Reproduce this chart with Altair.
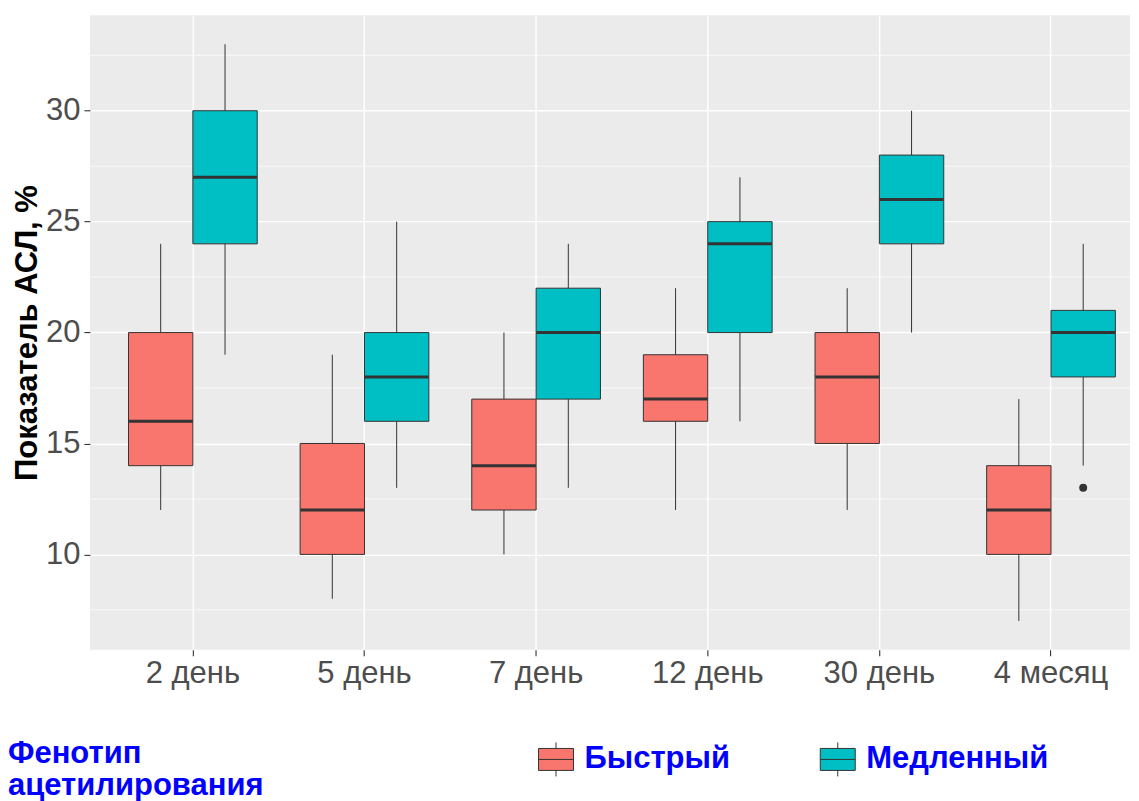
import altair as alt
import pandas as pd

days = ["2 день", "5 день", "7 день", "12 день", "30 день", "4 месяц"]
groups = ["Быстрый", "Медленный"]
colors = ["#F8766D", "#00BFC4"]

fast_min = [12, 8, 10, 12, 12, 7]
fast_q1 = [14, 10, 12, 16, 15, 10]
fast_med = [16, 12, 14, 17, 18, 12]
fast_q3 = [20, 15, 17, 19, 20, 14]
fast_max = [24, 19, 20, 22, 22, 17]

slow_min = [19, 13, 13, 16, 20, 14]
slow_q1 = [24, 16, 17, 20, 24, 18]
slow_med = [27, 18, 20, 24, 26, 20]
slow_q3 = [30, 20, 22, 25, 28, 21]
slow_max = [33, 25, 24, 27, 30, 24]

outlier_day = ["4 месяц"]
outlier_group = ["Медленный"]
outlier_value = [13]

major_ticks = [10, 15, 20, 25, 30]
minor_ticks = [7.5, 12.5, 17.5, 22.5, 27.5, 32.5]

rows = []
for i, d in enumerate(days):
    rows.append(dict(day=d, group=groups[0], lo=fast_min[i], q1=fast_q1[i],
                     med=fast_med[i], q3=fast_q3[i], hi=fast_max[i]))
    rows.append(dict(day=d, group=groups[1], lo=slow_min[i], q1=slow_q1[i],
                     med=slow_med[i], q3=slow_q3[i], hi=slow_max[i]))
box_df = pd.DataFrame(rows)
out_df = pd.DataFrame(dict(day=outlier_day, group=outlier_group, value=outlier_value))
minor_df = pd.DataFrame(dict(v=minor_ticks))

FONT = "Liberation Sans"

xscale = alt.Scale(domain=days, paddingInner=0.25, paddingOuter=0.155, align=0.725)
xaxis = alt.Axis(title=None, labelAngle=0, bandPosition=0.5, grid=True,
                 gridColor="white", gridWidth=1.4, domain=False,
                 tickColor="#333333", tickSize=6, tickWidth=1.1,
                 labelFont=FONT, labelFontSize=31, labelColor="#4D4D4D",
                 labelPadding=3)
yscale = alt.Scale(domain=[5.7, 34.3], nice=False, zero=False)
yaxis = alt.Axis(values=major_ticks, grid=True, gridColor="white", gridWidth=1.4,
                 domain=False, tickColor="#333333", tickSize=6, tickWidth=1.1,
                 labelFont=FONT, labelFontSize=31, labelColor="#4D4D4D",
                 labelPadding=4, title="Показатель АСЛ, %", titleFont=FONT,
                 titleFontSize=31, titleFontWeight="bold", titleColor="black",
                 titlePadding=2)

X = alt.X("day:N", scale=xscale, axis=xaxis, sort=days)
XO = alt.XOffset("group:N", scale=alt.Scale(domain=groups, paddingInner=0, paddingOuter=0))

sym_path = ("M-0.875,-0.55H0.875V0.55H-0.875Z"
            "M0,-0.55V-0.85M0,0.55V0.85M-0.875,0H0.875")

legend = alt.Legend(
    orient="none", legendX=-82, legendY=724, direction="horizontal",
    title=["Фенотип", "ацетилирования"], titleOrient="left", titleAnchor="start",
    titleBaseline="top", titleFont=FONT, titleFontSize=31, titleFontWeight="bold",
    titleColor="#0000FF", titleLineHeight=32, titleLimit=500, titlePadding=272,
    labelFont=FONT, labelFontSize=31, labelFontWeight="bold", labelColor="#0000FF",
    labelLimit=500, labelOffset=8, symbolType=sym_path, symbolSize=1600,
    symbolStrokeColor="#333333", symbolStrokeWidth=1, columnPadding=87, padding=0,
)

minor = alt.Chart(minor_df).mark_rule(color="white", strokeWidth=0.7).encode(
    y=alt.Y("v:Q", scale=yscale, axis=yaxis)
)

whisk = alt.Chart(box_df).mark_rule(color="#333333", strokeWidth=1).encode(
    x=X, xOffset=XO,
    y=alt.Y("lo:Q", scale=yscale, axis=yaxis), y2="hi:Q",
)

boxes = alt.Chart(box_df).mark_bar(stroke="#333333", strokeWidth=1).encode(
    x=X, xOffset=XO,
    y=alt.Y("q1:Q", scale=yscale, axis=yaxis), y2="q3:Q",
    fill=alt.Fill("group:N", scale=alt.Scale(domain=groups, range=colors), legend=legend),
)

meds = alt.Chart(box_df).mark_tick(color="#333333", thickness=3, size=64, opacity=1).encode(
    x=X, xOffset=XO,
    y=alt.Y("med:Q", scale=yscale, axis=yaxis),
)

outs = alt.Chart(out_df).mark_point(filled=True, color="#333333", size=64, opacity=1).encode(
    x=X, xOffset=XO,
    y=alt.Y("value:Q", scale=yscale, axis=yaxis),
)

chart = alt.layer(minor, whisk, boxes, meds, outs).properties(
    width=1041, height=635,
    padding={"left": 0, "top": 7, "right": 0, "bottom": 0},
).configure_view(fill="#EBEBEB", strokeWidth=0)

chart.save("out.html", embed_options={"renderer": "svg", "actions": False})
